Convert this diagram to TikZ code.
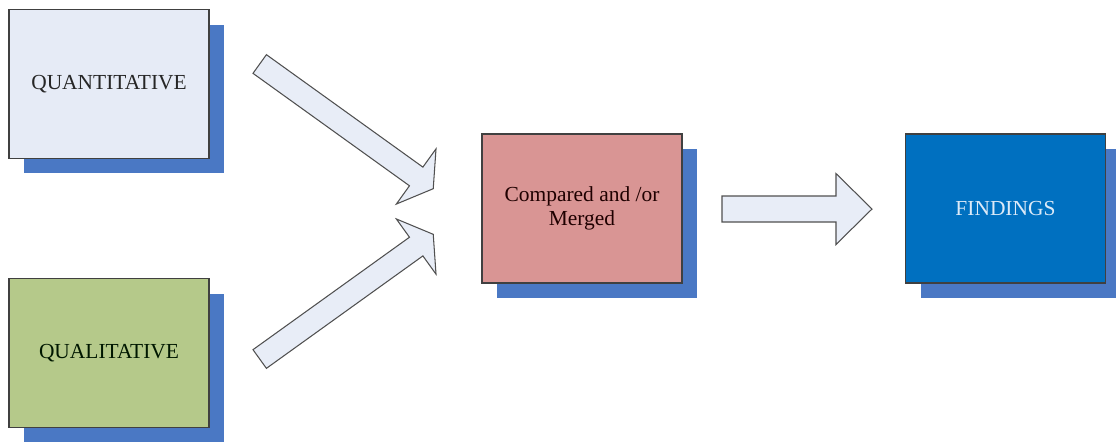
\documentclass[tikz,border=0pt]{standalone}
\usepackage{fontspec}
\setmainfont{Liberation Serif}
\usetikzlibrary{shadows}

\definecolor{quantfill}{RGB}{230,235,246}
\definecolor{qualfill}{RGB}{181,201,138}
\definecolor{compfill}{RGB}{217,149,148}
\definecolor{findfill}{RGB}{0,112,192}
\definecolor{shadowblue}{RGB}{74,120,196}
\definecolor{boxline}{RGB}{64,64,64}
\definecolor{arrowfill}{RGB}{232,237,247}
\definecolor{arrowline}{RGB}{80,80,80}
\definecolor{findtext}{RGB}{220,234,248}

\tikzset{
  stagebox/.style={
    rectangle, draw=boxline, line width=0.8pt,
    minimum width=4cm, minimum height=2.98cm, inner sep=0pt,
    align=center, font=\fontsize{12.2}{13.5}\selectfont,
    drop shadow={shadow xshift=0.3cm, shadow yshift=-0.3cm,
                 fill=shadowblue, opacity=1}
  },
  blockarrow/.style={fill=arrowfill, draw=arrowline, line width=0.6pt,
                     line join=miter}
}

% block arrow along local +x: length, head length, shaft half width, head half width
\newcommand{\myblockarrow}[4]{%
  \draw[blockarrow] (0,-#3) -- ({#1-#2},-#3) -- ({#1-#2},-#4) -- (#1,0)
    -- ({#1-#2},#4) -- ({#1-#2},#3) -- (0,#3) -- cycle;}

\begin{document}
\begin{tikzpicture}[x=0.02cm, y=-0.02cm]
  \useasboundingbox (0,0) rectangle (1116,441);

  % the four stages
  \node[stagebox, fill=quantfill, text=black!85] (quant) at (109,84) {QUANTITATIVE};
  \node[stagebox, fill=qualfill, text=black!85!green!60!black] (qual) at (109,353) {QUALITATIVE};
  \node[stagebox, fill=compfill, text=black!80!red!60!black] (comp) at (582,208.5) {Compared and /or\\Merged};
  \node[stagebox, fill=findfill, text=findtext] (find) at (1005.5,208.5) {FINDINGS};

  % converging arrows into the comparison stage
  \begin{scope}[shift={(259.7,64)}, rotate=-35.7]
    \myblockarrow{213.7}{21}{11.5}{34}
  \end{scope}
  \begin{scope}[shift={(259.7,359)}, rotate=35.7]
    \myblockarrow{213.7}{21}{11.5}{34}
  \end{scope}

  % arrow towards the findings
  \begin{scope}[shift={(722,209)}]
    \myblockarrow{150}{36}{13}{35.5}
  \end{scope}
\end{tikzpicture}
\end{document}
